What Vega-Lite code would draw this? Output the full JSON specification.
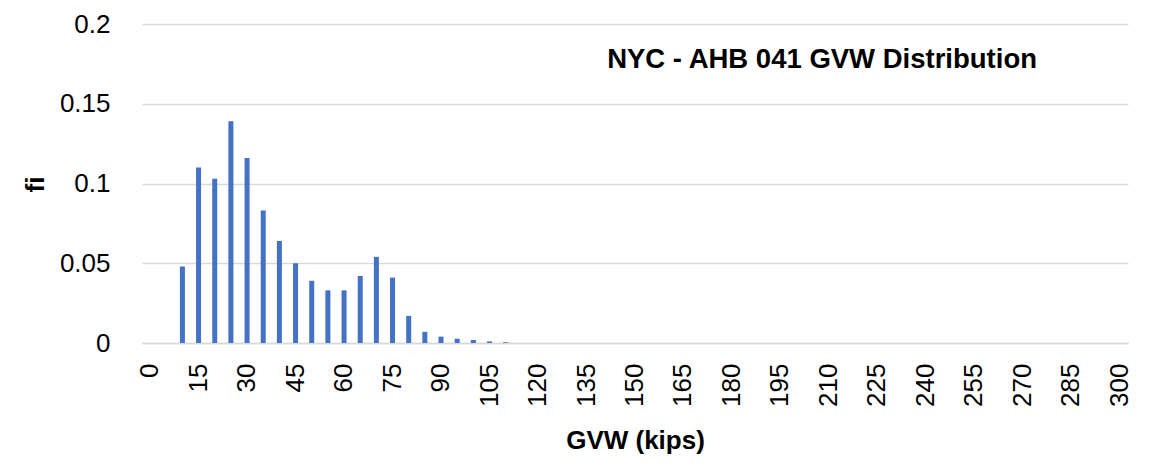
{
  "$schema": "https://vega.github.io/schema/vega-lite/v6.json",
  "width": 986,
  "height": 319,
  "autosize": {"type": "none"},
  "padding": {"left": 142, "top": 24, "right": 25, "bottom": 123},
  "background": "white",
  "title": {
    "text": "NYC - AHB 041 GVW Distribution",
    "anchor": "end",
    "frame": "group",
    "orient": "top",
    "offset": -62,
    "dx": -91,
    "fontSize": 27.5,
    "fontWeight": "bold",
    "font": "Liberation Sans",
    "color": "#000000"
  },
  "data": {
    "values": [
      {"gvw": 10, "fi": 0.048},
      {"gvw": 15, "fi": 0.110},
      {"gvw": 20, "fi": 0.103},
      {"gvw": 25, "fi": 0.139},
      {"gvw": 30, "fi": 0.116},
      {"gvw": 35, "fi": 0.083},
      {"gvw": 40, "fi": 0.064},
      {"gvw": 45, "fi": 0.050},
      {"gvw": 50, "fi": 0.039},
      {"gvw": 55, "fi": 0.033},
      {"gvw": 60, "fi": 0.033},
      {"gvw": 65, "fi": 0.042},
      {"gvw": 70, "fi": 0.054},
      {"gvw": 75, "fi": 0.041},
      {"gvw": 80, "fi": 0.017},
      {"gvw": 85, "fi": 0.007},
      {"gvw": 90, "fi": 0.004},
      {"gvw": 95, "fi": 0.0027},
      {"gvw": 100, "fi": 0.0019},
      {"gvw": 105, "fi": 0.001},
      {"gvw": 110, "fi": 0.0005}
    ]
  },
  "mark": {"type": "bar", "color": "#4472C4"},
  "encoding": {
    "x": {
      "field": "gvw",
      "type": "ordinal",
      "sort": "ascending",
      "scale": {
        "domain": [0,5,10,15,20,25,30,35,40,45,50,55,60,65,70,75,80,85,90,95,100,105,110,115,120,125,130,135,140,145,150,155,160,165,170,175,180,185,190,195,200,205,210,215,220,225,230,235,240,245,250,255,260,265,270,275,280,285,290,295,300],
        "paddingInner": 0.69,
        "paddingOuter": 0.345
      },
      "axis": {
        "title": "GVW (kips)",
        "values": [0,15,30,45,60,75,90,105,120,135,150,165,180,195,210,225,240,255,270,285,300],
        "labelAngle": -90,
        "labelFont": "Liberation Sans",
        "labelFontSize": 26,
        "labelColor": "#000000",
        "labelPadding": 20,
        "ticks": false,
        "domainColor": "#D9D9D9",
        "domainWidth": 1.5,
        "grid": false,
        "titleFont": "Liberation Sans",
        "titleFontSize": 26,
        "titleFontWeight": "bold",
        "titleColor": "#000000",
        "titleY": 105,
        "titleBaseline": "alphabetic"
      }
    },
    "y": {
      "field": "fi",
      "type": "quantitative",
      "scale": {"domain": [0, 0.2], "nice": false},
      "axis": {
        "title": "fi",
        "values": [0, 0.05, 0.1, 0.15, 0.2],
        "format": "~g",
        "labelFont": "Liberation Sans",
        "labelFontSize": 26,
        "labelColor": "#000000",
        "labelPadding": 32,
        "ticks": false,
        "domain": false,
        "grid": true,
        "gridColor": "#D9D9D9",
        "gridWidth": 1.5,
        "titleFont": "Liberation Sans",
        "titleFontSize": 26,
        "titleFontWeight": "bold",
        "titleColor": "#000000",
        "titleX": -107,
        "titleY": 160,
        "titleAngle": -90,
        "titleAlign": "center",
        "titleBaseline": "middle"
      }
    }
  },
  "config": {"view": {"stroke": null}}
}
